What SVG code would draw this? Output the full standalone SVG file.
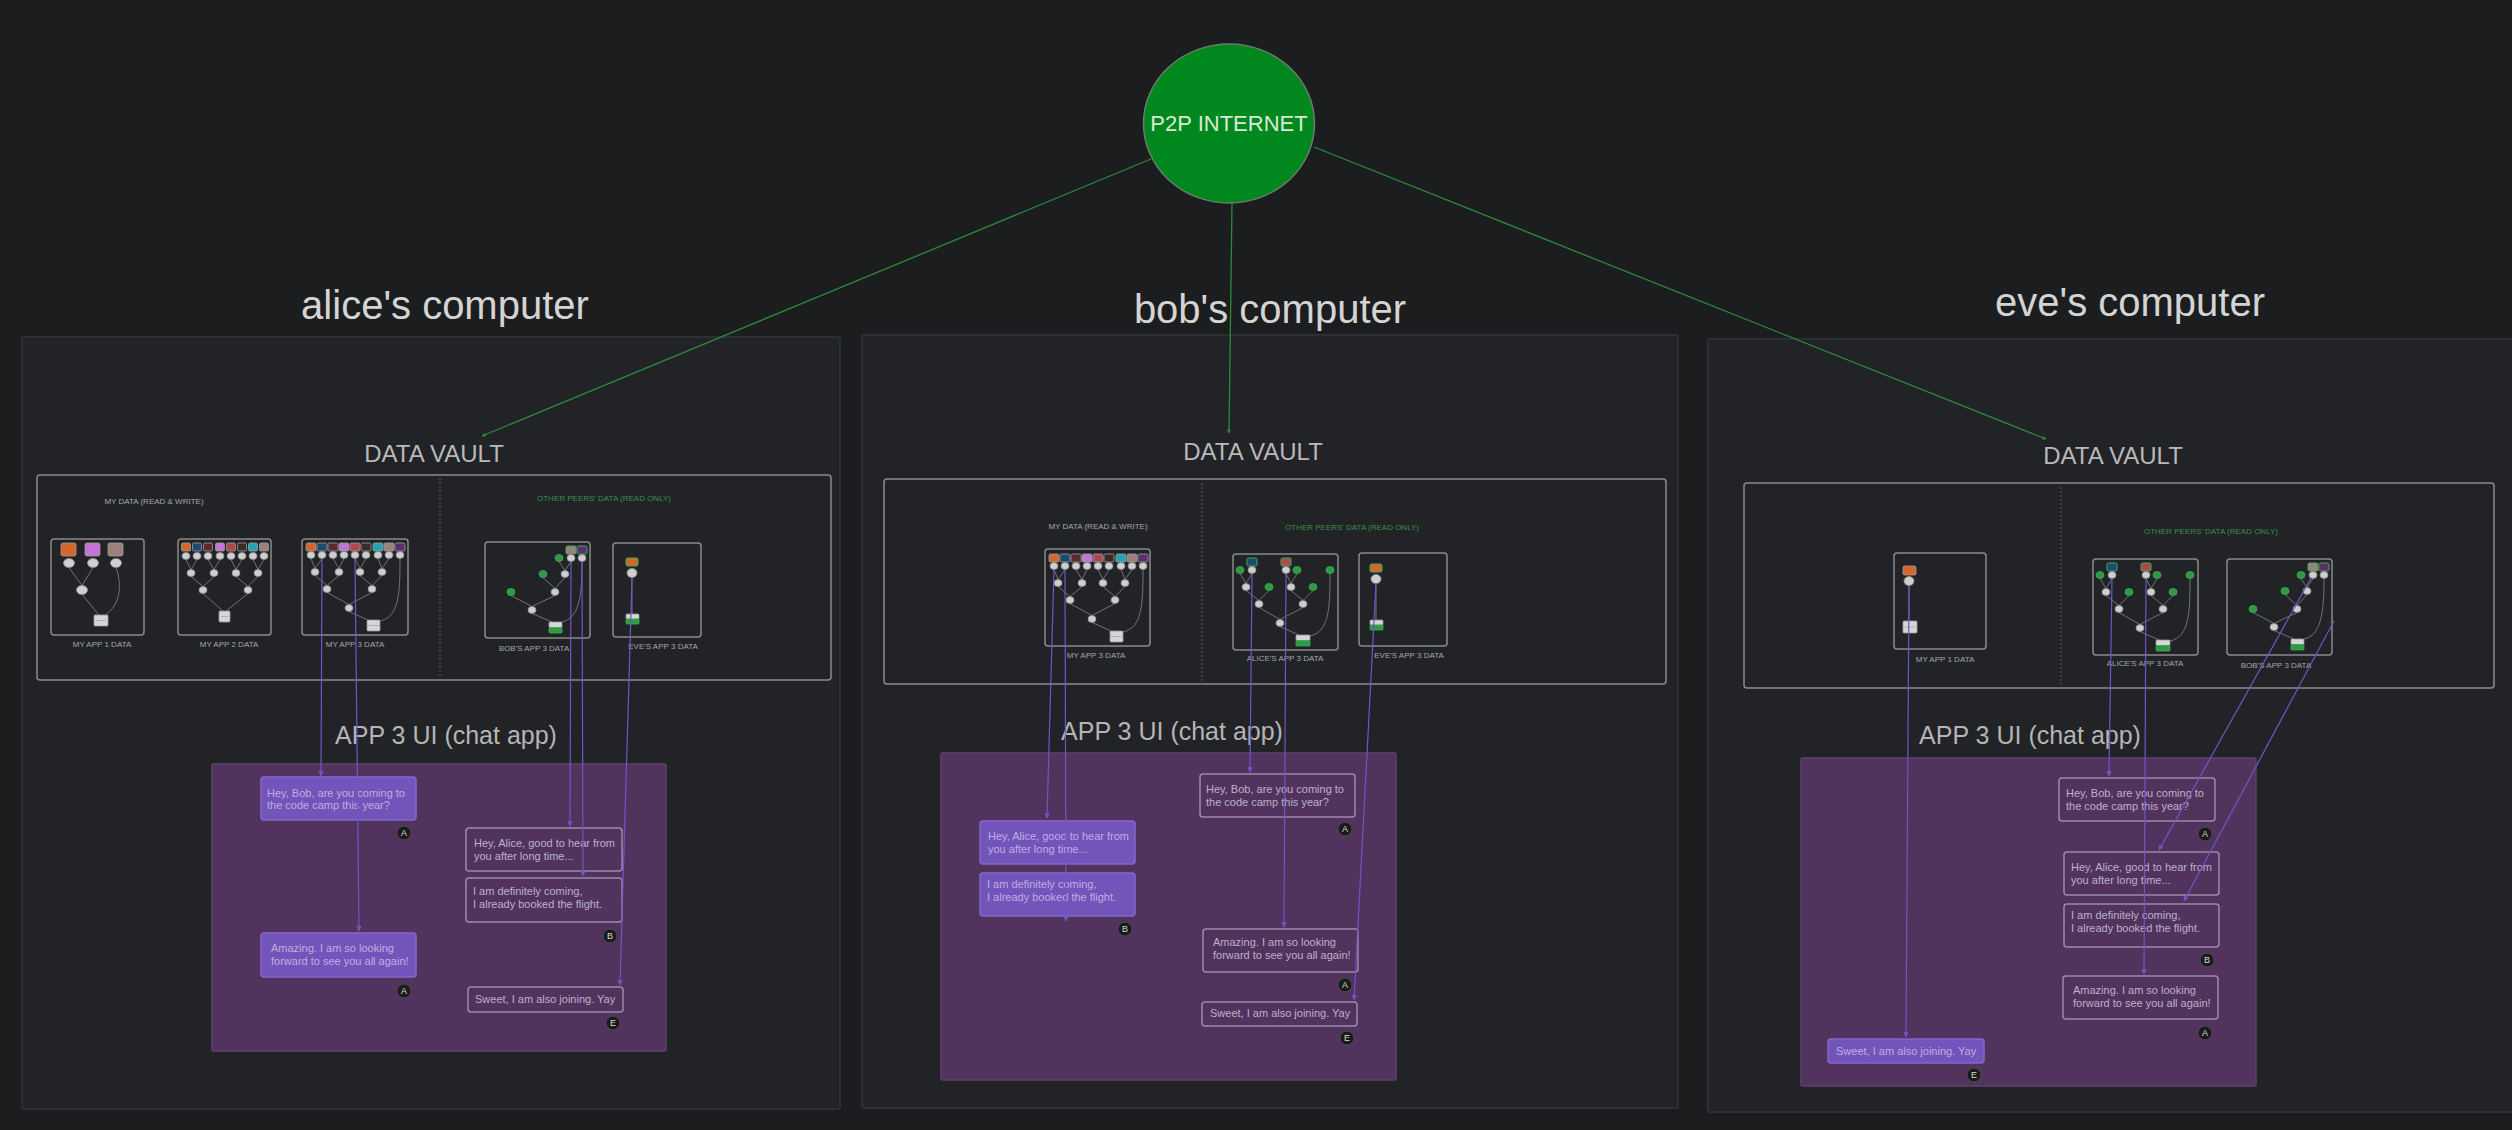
<svg xmlns="http://www.w3.org/2000/svg" width="2512" height="1130" viewBox="0 0 2512 1130">
<style>
.panel{fill:#212326;stroke:#2c2f33;stroke-width:2}
.title{font-family:"Liberation Sans",Arial,sans-serif;font-size:40px;fill:#d4d4d4;text-anchor:middle}
.vlabel{font-family:"Liberation Sans",Arial,sans-serif;font-size:24px;fill:#b9b9b9;text-anchor:middle}
.vault{fill:none;stroke:#8c8c8c;stroke-width:1.5}
.divider{stroke:#5c5c5c;stroke-width:1;stroke-dasharray:2 2}
.sec{font-family:"Liberation Sans",Arial,sans-serif;font-size:8px;fill:#a8a8a8;text-anchor:middle}
.secg{fill:#3b8f4c}
.box{fill:none;stroke:#8a8a8a;stroke-width:1.5}
.applabel{font-family:"Liberation Sans",Arial,sans-serif;font-size:8px;fill:#a6a6a6;text-anchor:middle}
.e{fill:none;stroke:#7a7a7a;stroke-width:0.9}
.wc{fill:#cfcfcf;stroke:#8e8e8e;stroke-width:0.8}
.gc{fill:#2f9944;stroke:#3cae55;stroke-width:0.8}
.doc{fill:#d6d6d6;stroke:#9a9a9a;stroke-width:0.8}
.docg{fill:#2f9944;stroke:#3cae55;stroke-width:0.8}
.sq{stroke:#a0a0a0;stroke-width:0.8}
.sqg{stroke:#3cae55;stroke-width:1}
.chat{fill:#52335d;stroke:#5f436b;stroke-width:1.5}
.uititle{font-family:"Liberation Sans",Arial,sans-serif;font-size:25px;fill:#b5b5b5;text-anchor:middle}
.bf{fill:#7354bb;stroke:#8567cc;stroke-width:1.5}
.bo{fill:none;stroke:#9d8aa8;stroke-width:1.5}
.bt{font-family:"Liberation Sans",Arial,sans-serif;font-size:11px;fill:#bdb2c9}
.btf{fill:#bbb0e0}
.badge{fill:#1b1b1c;stroke:#4c4c4c;stroke-width:1}
.bl{font-family:"Liberation Sans",Arial,sans-serif;font-size:9px;fill:#d8d8d8;text-anchor:middle}
.pc{fill:none;stroke:#6f56c8;stroke-width:1.2;marker-end:url(#ap)}
.gl{fill:none;stroke:#2b8a3b;stroke-width:1.3;marker-end:url(#ag)}
</style>
<defs>
<marker id="ap" viewBox="0 0 10 10" refX="9" refY="5" markerWidth="4.5" markerHeight="4.5" orient="auto"><path d="M0,0 L10,5 L0,10 z" fill="#6f56c8"/></marker>
<marker id="ag" viewBox="0 0 10 10" refX="9" refY="5" markerWidth="3" markerHeight="3" orient="auto"><path d="M0,0 L10,5 L0,10 z" fill="#2b8a3b"/></marker>
<g id="app1-local">
<path class="e" d="M18,28.5 L31,46.5 M42,28.5 L31,46.5 M31,55.5 L48,76 M65,28.5 C71,45 70,66 54,76"/>
<rect class="sq" x="10" y="4" width="15" height="13" rx="2" fill="#d4672c"/>
<rect class="sq" x="34" y="4" width="15" height="13" rx="2" fill="#c474d6"/>
<rect class="sq" x="57" y="4" width="15" height="13" rx="2" fill="#9a827b"/>
<ellipse class="wc" cx="18" cy="24" rx="5.5" ry="4.5"/><ellipse class="wc" cx="42" cy="24" rx="5.5" ry="4.5"/><ellipse class="wc" cx="65" cy="24" rx="5.5" ry="4.5"/>
<ellipse class="wc" cx="31" cy="51" rx="5.5" ry="4.5"/>
<rect class="doc" x="43" y="76" width="14" height="11" rx="1"/><line x1="45" y1="81.5" x2="55" y2="81.5" stroke="#999" stroke-width="0.6"/>
</g>
<g id="app2-local">
<path class="e" d="M8,20.5 L13,30.5 M19,20.5 L13,30.5 M30,20.5 L36,30.5 M42,20.5 L36,30.5 M53,20.5 L58,30.5 M64,20.5 L58,30.5 M75,20.5 L80,30.5 M86,20.5 L80,30.5 M13,37.5 L25,47.5 M36,37.5 L25,47.5 M58,37.5 L70,47.5 M80,37.5 L70,47.5 M25,54.5 L45,72 M70,54.5 L48,72"/>
<rect class="sq" x="3.5" y="4" width="9" height="8" rx="1.5" fill="#d4672c"/>
<rect class="sq" x="14.5" y="4" width="9" height="8" rx="1.5" fill="#1d4a70"/>
<rect class="sq" x="25.5" y="4" width="9" height="8" rx="1.5" fill="#5a2a30"/>
<rect class="sq" x="37.5" y="4" width="9" height="8" rx="1.5" fill="#c474d6"/>
<rect class="sq" x="48.5" y="4" width="9" height="8" rx="1.5" fill="#b0474c"/>
<rect class="sq" x="59.5" y="4" width="9" height="8" rx="1.5" fill="#3b2b2b"/>
<rect class="sq" x="70.5" y="4" width="9" height="8" rx="1.5" fill="#25a3b5"/>
<rect class="sq" x="81.5" y="4" width="9" height="8" rx="1.5" fill="#9a827b"/>
<ellipse class="wc" cx="8" cy="17" rx="4" ry="3.5"/><ellipse class="wc" cx="19" cy="17" rx="4" ry="3.5"/><ellipse class="wc" cx="30" cy="17" rx="4" ry="3.5"/><ellipse class="wc" cx="42" cy="17" rx="4" ry="3.5"/><ellipse class="wc" cx="53" cy="17" rx="4" ry="3.5"/><ellipse class="wc" cx="64" cy="17" rx="4" ry="3.5"/><ellipse class="wc" cx="75" cy="17" rx="4" ry="3.5"/><ellipse class="wc" cx="86" cy="17" rx="4" ry="3.5"/>
<ellipse class="wc" cx="13" cy="34" rx="4" ry="3.5"/><ellipse class="wc" cx="36" cy="34" rx="4" ry="3.5"/><ellipse class="wc" cx="58" cy="34" rx="4" ry="3.5"/><ellipse class="wc" cx="80" cy="34" rx="4" ry="3.5"/>
<ellipse class="wc" cx="25" cy="51" rx="4" ry="3.5"/><ellipse class="wc" cx="70" cy="51" rx="4" ry="3.5"/>
<rect class="doc" x="41" y="72" width="11" height="11" rx="1"/><line x1="43" y1="77.5" x2="50" y2="77.5" stroke="#999" stroke-width="0.6"/>
</g>
<g id="app3-local">
<path class="e" d="M9,19.5 L13,29.5 M20,19.5 L13,29.5 M31,19.5 L37,29.5 M42,19.5 L37,29.5 M53,19.5 L58,29.5 M64,19.5 L58,29.5 M76,19.5 L80,29.5 M87,19.5 L80,29.5 M13,36.5 L25,46.5 M37,36.5 L25,46.5 M58,36.5 L70,46.5 M80,36.5 L70,46.5 M25,53.5 L47,65.5 M70,53.5 L47,65.5 M47,72.5 L66,81 M98,19.5 C98,55 97,78 78,82"/>
<rect class="sq" x="4" y="4" width="10" height="8" rx="1.5" fill="#d4672c"/>
<rect class="sq" x="15" y="4" width="10" height="8" rx="1.5" fill="#1d4a70"/>
<rect class="sq" x="26" y="4" width="10" height="8" rx="1.5" fill="#5a2a30"/>
<rect class="sq" x="37" y="4" width="10" height="8" rx="1.5" fill="#c474d6"/>
<rect class="sq" x="48" y="4" width="10" height="8" rx="1.5" fill="#b0474c"/>
<rect class="sq" x="59" y="4" width="10" height="8" rx="1.5" fill="#3b2b2b"/>
<rect class="sq" x="71" y="4" width="10" height="8" rx="1.5" fill="#25a3b5"/>
<rect class="sq" x="82" y="4" width="10" height="8" rx="1.5" fill="#9a827b"/>
<rect class="sq" x="93" y="4" width="10" height="8" rx="1.5" fill="#5c2e6e"/>
<ellipse class="wc" cx="9" cy="16" rx="4" ry="3.5"/><ellipse class="wc" cx="20" cy="16" rx="4" ry="3.5"/><ellipse class="wc" cx="31" cy="16" rx="4" ry="3.5"/><ellipse class="wc" cx="42" cy="16" rx="4" ry="3.5"/><ellipse class="wc" cx="53" cy="16" rx="4" ry="3.5"/><ellipse class="wc" cx="64" cy="16" rx="4" ry="3.5"/><ellipse class="wc" cx="76" cy="16" rx="4" ry="3.5"/><ellipse class="wc" cx="87" cy="16" rx="4" ry="3.5"/><ellipse class="wc" cx="98" cy="16" rx="4" ry="3.5"/>
<ellipse class="wc" cx="13" cy="33" rx="4" ry="3.5"/><ellipse class="wc" cx="37" cy="33" rx="4" ry="3.5"/><ellipse class="wc" cx="58" cy="33" rx="4" ry="3.5"/><ellipse class="wc" cx="80" cy="33" rx="4" ry="3.5"/>
<ellipse class="wc" cx="25" cy="50" rx="4" ry="3.5"/><ellipse class="wc" cx="70" cy="50" rx="4" ry="3.5"/>
<ellipse class="wc" cx="47" cy="69" rx="4" ry="3.5"/>
<rect class="doc" x="65" y="81" width="13" height="11" rx="1"/><line x1="65" y1="86.5" x2="78" y2="86.5" stroke="#999" stroke-width="0.6"/>
</g>
<g id="alice-app3-remote">
<path class="e" d="M7,19.5 L13,29.5 M19,19.5 L13,29.5 M53,19.5 L58,29.5 M64,19.5 L58,29.5 M13,36.5 L26,46.5 M36,36.5 L26,46.5 M58,36.5 L70,46.5 M80,36.5 L70,46.5 M26,53.5 L47,65.5 M70,53.5 L47,65.5 M47,72.5 L66,81 M97,19.5 C97,55 96,78 77,82"/>
<rect class="sqg" x="14" y="4" width="10" height="8" rx="1.5" fill="#1d4a70"/>
<rect class="sqg" x="48" y="4" width="10" height="8" rx="1.5" fill="#b0474c"/>
<ellipse class="gc" cx="7" cy="16" rx="4" ry="3.5"/><ellipse class="wc" cx="19" cy="16" rx="4" ry="3.5"/><ellipse class="wc" cx="53" cy="16" rx="4" ry="3.5"/><ellipse class="gc" cx="64" cy="16" rx="4" ry="3.5"/><ellipse class="gc" cx="97" cy="16" rx="4" ry="3.5"/>
<ellipse class="wc" cx="13" cy="33" rx="4" ry="3.5"/><ellipse class="gc" cx="36" cy="33" rx="4" ry="3.5"/><ellipse class="wc" cx="58" cy="33" rx="4" ry="3.5"/><ellipse class="gc" cx="80" cy="33" rx="4" ry="3.5"/>
<ellipse class="wc" cx="26" cy="50" rx="4" ry="3.5"/><ellipse class="wc" cx="70" cy="50" rx="4" ry="3.5"/>
<ellipse class="wc" cx="47" cy="69" rx="4" ry="3.5"/>
<rect class="doc" x="63" y="81" width="14" height="5.5" rx="1"/><rect class="docg" x="63" y="86.5" width="14" height="5.5" rx="1"/>
</g>
<g id="bob-app3-remote">
<path class="e" d="M74,19.5 L80,28.5 M86,19.5 L80,28.5 M80,35.5 L70,46.5 M58,35.5 L70,46.5 M70,53.5 L47,64.5 M26,53.5 L47,64.5 M47,71.5 L67,80 M97,19.5 C97,55 94,76 77,80"/>
<rect class="sqg" x="81" y="4" width="10" height="8" rx="1.5" fill="#9a827b"/>
<rect class="sqg" x="92" y="4" width="10" height="8" rx="1.5" fill="#5c2e6e"/>
<ellipse class="gc" cx="74" cy="16" rx="4" ry="3.5"/><ellipse class="wc" cx="86" cy="16" rx="4" ry="3.5"/><ellipse class="wc" cx="97" cy="16" rx="4" ry="3.5"/>
<ellipse class="gc" cx="58" cy="32" rx="4" ry="3.5"/><ellipse class="wc" cx="80" cy="32" rx="4" ry="3.5"/>
<ellipse class="gc" cx="26" cy="50" rx="4" ry="3.5"/><ellipse class="wc" cx="70" cy="50" rx="4" ry="3.5"/>
<ellipse class="wc" cx="47" cy="68" rx="4" ry="3.5"/>
<rect class="doc" x="64" y="80" width="13" height="5.5" rx="1"/><rect class="docg" x="64" y="85.5" width="13" height="5.5" rx="1"/>
</g>
<g id="eve-app3-remote">
<path class="e" d="M19,34.5 L19,71"/>
<rect class="sqg" x="13" y="15" width="12" height="8" rx="1.5" fill="#d4672c"/>
<ellipse class="wc" cx="19" cy="30" rx="5" ry="4.5"/>
<rect class="doc" x="13" y="71" width="13" height="5" rx="1"/><rect class="docg" x="13" y="76" width="13" height="5" rx="1"/>
</g>
<g id="eve-app1-local">
<path class="e" d="M15,32.5 L15,68"/>
<rect class="sq" x="9" y="13" width="13" height="9" rx="1.5" fill="#d4672c"/>
<ellipse class="wc" cx="15" cy="28" rx="5" ry="4.5"/>
<rect class="doc" x="9" y="68" width="14" height="12" rx="1"/><line x1="11" y1="74" x2="21" y2="74" stroke="#999" stroke-width="0.6"/>
</g>
</defs>

<rect width="2512" height="1130" fill="#1c1d1f"/>

<g id="p2p-internet">
<ellipse cx="1229" cy="123.5" rx="85.5" ry="79.5" fill="#00881f" stroke="#6b7d6b" stroke-width="1.5"/>
<text x="1229" y="131" font-family="Liberation Sans, Arial, sans-serif" font-size="22" fill="#d8ead8" text-anchor="middle">P2P INTERNET</text>
</g>

<g id="alice-computer">
<text class="title" x="445" y="319">alice's computer</text>
<rect class="panel" x="22" y="337" width="818" height="772" rx="2"/>
<g id="alice-vault">
<text class="vlabel" x="434" y="462">DATA VAULT</text>
<rect class="vault" x="37" y="475" width="794" height="205" rx="3"/>
<line class="divider" x1="440" y1="478" x2="440" y2="677"/>
<text class="sec" x="154" y="504">MY DATA (READ &amp; WRITE)</text>
<text class="sec secg" x="604" y="501">OTHER PEERS' DATA (READ ONLY)</text>
<g id="alice-my-app1"><rect class="box" x="51" y="539" width="93" height="96" rx="3"/><use href="#app1-local" transform="translate(51,539)"/><text class="applabel" x="102" y="647">MY APP 1 DATA</text></g>
<g id="alice-my-app2"><rect class="box" x="178" y="539" width="93" height="96" rx="3"/><use href="#app2-local" transform="translate(178,539)"/><text class="applabel" x="229" y="647">MY APP 2 DATA</text></g>
<g id="alice-my-app3"><rect class="box" x="302" y="539" width="106" height="96" rx="3"/><use href="#app3-local" transform="translate(302,539)"/><text class="applabel" x="355" y="647">MY APP 3 DATA</text></g>
<g id="alice-bob-app3"><rect class="box" x="485" y="542" width="105" height="96" rx="3"/><use href="#bob-app3-remote" transform="translate(485,542)"/><text class="applabel" x="534" y="651">BOB'S APP 3 DATA</text></g>
<g id="alice-eve-app3"><rect class="box" x="613" y="543" width="88" height="94" rx="3"/><use href="#eve-app3-remote" transform="translate(613,543)"/><text class="applabel" x="663" y="649">EVE'S APP 3 DATA</text></g>
</g>
<g id="alice-chat">
<text class="uititle" x="446" y="744">APP 3 UI (chat app)</text>
<rect class="chat" x="212" y="764" width="454" height="287" rx="2"/>
<g id="alice-msg1"><rect class="bf" x="261" y="777" width="155" height="43" rx="3"/><text class="bt btf"><tspan x="267" y="797">Hey, Bob, are you coming to</tspan><tspan x="267" y="809">the code camp this year?</tspan></text><circle class="badge" cx="404" cy="833" r="7"/><text class="bl" x="404" y="836">A</text></g>
<g id="alice-msg2"><rect class="bo" x="466" y="828" width="156" height="43" rx="3"/><text class="bt"><tspan x="474" y="847">Hey, Alice, good to hear from</tspan><tspan x="474" y="860">you after long time...</tspan></text></g>
<g id="alice-msg3"><rect class="bo" x="466" y="878" width="156" height="44" rx="3"/><text class="bt"><tspan x="473" y="895">I am definitely coming,</tspan><tspan x="473" y="908">I already booked the flight.</tspan></text><circle class="badge" cx="610" cy="936" r="7"/><text class="bl" x="610" y="939">B</text></g>
<g id="alice-msg4"><rect class="bf" x="261" y="933" width="155" height="44" rx="3"/><text class="bt btf"><tspan x="271" y="952">Amazing. I am so looking</tspan><tspan x="271" y="965">forward to see you all again!</tspan></text><circle class="badge" cx="404" cy="991" r="7"/><text class="bl" x="404" y="994">A</text></g>
<g id="alice-msg5"><rect class="bo" x="468" y="987" width="155" height="25" rx="3"/><text class="bt" x="475" y="1003">Sweet, I am also joining. Yay</text><circle class="badge" cx="613" cy="1023" r="7"/><text class="bl" x="613" y="1026">E</text></g>
</g>
</g>

<g id="bob-computer">
<text class="title" x="1270" y="323">bob's computer</text>
<rect class="panel" x="862" y="335" width="816" height="773" rx="2"/>
<g id="bob-vault">
<text class="vlabel" x="1253" y="460">DATA VAULT</text>
<rect class="vault" x="884" y="479" width="782" height="205" rx="3"/>
<line class="divider" x1="1202" y1="483" x2="1202" y2="682"/>
<text class="sec" x="1098" y="529">MY DATA (READ &amp; WRITE)</text>
<text class="sec secg" x="1352" y="530">OTHER PEERS' DATA (READ ONLY)</text>
<g id="bob-my-app3"><rect class="box" x="1045" y="549" width="105" height="97" rx="3"/><use href="#app3-local" transform="translate(1045,550)"/><text class="applabel" x="1096" y="658">MY APP 3 DATA</text></g>
<g id="bob-alice-app3"><rect class="box" x="1233" y="554" width="105" height="96" rx="3"/><use href="#alice-app3-remote" transform="translate(1233,554)"/><text class="applabel" x="1285" y="661">ALICE'S APP 3 DATA</text></g>
<g id="bob-eve-app3"><rect class="box" x="1359" y="553" width="88" height="93" rx="3"/><use href="#eve-app3-remote" transform="translate(1357,549)"/><text class="applabel" x="1409" y="658">EVE'S APP 3 DATA</text></g>
</g>
<g id="bob-chat">
<text class="uititle" x="1172" y="740">APP 3 UI (chat app)</text>
<rect class="chat" x="941" y="753" width="455" height="327" rx="2"/>
<g id="bob-msg1"><rect class="bo" x="1200" y="774" width="155" height="43" rx="3"/><text class="bt"><tspan x="1206" y="793">Hey, Bob, are you coming to</tspan><tspan x="1206" y="806">the code camp this year?</tspan></text><circle class="badge" cx="1345" cy="829" r="7"/><text class="bl" x="1345" y="832">A</text></g>
<g id="bob-msg2"><rect class="bf" x="980" y="821" width="155" height="43" rx="3"/><text class="bt btf"><tspan x="988" y="840">Hey, Alice, good to hear from</tspan><tspan x="988" y="853">you after long time...</tspan></text></g>
<g id="bob-msg3"><rect class="bf" x="980" y="873" width="155" height="43" rx="3"/><text class="bt btf"><tspan x="987" y="888">I am definitely coming,</tspan><tspan x="987" y="901">I already booked the flight.</tspan></text><circle class="badge" cx="1125" cy="929" r="7"/><text class="bl" x="1125" y="932">B</text></g>
<g id="bob-msg4"><rect class="bo" x="1203" y="929" width="155" height="43" rx="3"/><text class="bt"><tspan x="1213" y="946">Amazing. I am so looking</tspan><tspan x="1213" y="959">forward to see you all again!</tspan></text><circle class="badge" cx="1345" cy="985" r="7"/><text class="bl" x="1345" y="988">A</text></g>
<g id="bob-msg5"><rect class="bo" x="1202" y="1002" width="155" height="24" rx="3"/><text class="bt" x="1210" y="1017">Sweet, I am also joining. Yay</text><circle class="badge" cx="1347" cy="1038" r="7"/><text class="bl" x="1347" y="1041">E</text></g>
</g>
</g>

<g id="eve-computer">
<text class="title" x="2130" y="316">eve's computer</text>
<rect class="panel" x="1708" y="339" width="820" height="773" rx="2"/>
<g id="eve-vault">
<text class="vlabel" x="2113" y="464">DATA VAULT</text>
<rect class="vault" x="1744" y="483" width="750" height="205" rx="3"/>
<line class="divider" x1="2061" y1="487" x2="2061" y2="686"/>
<text class="sec secg" x="2211" y="534">OTHER PEERS' DATA (READ ONLY)</text>
<g id="eve-my-app1"><rect class="box" x="1894" y="553" width="92" height="96" rx="3"/><use href="#eve-app1-local" transform="translate(1894,553)"/><text class="applabel" x="1945" y="662">MY APP 1 DATA</text></g>
<g id="eve-alice-app3"><rect class="box" x="2093" y="559" width="105" height="96" rx="3"/><use href="#alice-app3-remote" transform="translate(2093,559)"/><text class="applabel" x="2145" y="666">ALICE'S APP 3 DATA</text></g>
<g id="eve-bob-app3"><rect class="box" x="2227" y="559" width="105" height="96" rx="3"/><use href="#bob-app3-remote" transform="translate(2227,559)"/><text class="applabel" x="2276" y="668">BOB'S APP 3 DATA</text></g>
</g>
<g id="eve-chat">
<text class="uititle" x="2030" y="744">APP 3 UI (chat app)</text>
<rect class="chat" x="1801" y="758" width="455" height="328" rx="2"/>
<g id="eve-msg1"><rect class="bo" x="2059" y="778" width="156" height="43" rx="3"/><text class="bt"><tspan x="2066" y="797">Hey, Bob, are you coming to</tspan><tspan x="2066" y="810">the code camp this year?</tspan></text><circle class="badge" cx="2205" cy="834" r="7"/><text class="bl" x="2205" y="837">A</text></g>
<g id="eve-msg2"><rect class="bo" x="2064" y="852" width="155" height="43" rx="3"/><text class="bt"><tspan x="2071" y="871">Hey, Alice, good to hear from</tspan><tspan x="2071" y="884">you after long time...</tspan></text></g>
<g id="eve-msg3"><rect class="bo" x="2064" y="904" width="155" height="43" rx="3"/><text class="bt"><tspan x="2071" y="919">I am definitely coming,</tspan><tspan x="2071" y="932">I already booked the flight.</tspan></text><circle class="badge" cx="2207" cy="960" r="7"/><text class="bl" x="2207" y="963">B</text></g>
<g id="eve-msg4"><rect class="bo" x="2063" y="976" width="155" height="43" rx="3"/><text class="bt"><tspan x="2073" y="994">Amazing. I am so looking</tspan><tspan x="2073" y="1007">forward to see you all again!</tspan></text><circle class="badge" cx="2205" cy="1033" r="7"/><text class="bl" x="2205" y="1036">A</text></g>
<g id="eve-msg5"><rect class="bf" x="1828" y="1039" width="156" height="24" rx="3"/><text class="bt btf" x="1836" y="1055">Sweet, I am also joining. Yay</text><circle class="badge" cx="1974" cy="1075" r="7"/><text class="bl" x="1974" y="1078">E</text></g>
</g>
</g>

<g id="connectors">
<path class="gl" d="M1151,159 L482,436"/>
<path class="gl" d="M1232,203 L1229,433"/>
<path class="gl" d="M1314,147 L2046,439"/>
<path class="pc" d="M322,559 L321,776"/>
<path class="pc" d="M355,559 L359,931"/>
<path class="pc" d="M571,562 L570,826"/>
<path class="pc" d="M582,562 L583,876"/>
<path class="pc" d="M632,578 L620,985"/>
<path class="pc" d="M1054,570 L1047,818"/>
<path class="pc" d="M1065,570 L1066,921"/>
<path class="pc" d="M1252,574 L1250,772"/>
<path class="pc" d="M1286,574 L1284,927"/>
<path class="pc" d="M1376,583 L1354,1000"/>
<path class="pc" d="M1909,586 L1906,1037"/>
<path class="pc" d="M2112,579 L2109,776"/>
<path class="pc" d="M2146,579 L2144,974"/>
<path class="pc" d="M2311,578 L2159,850"/>
<path class="pc" d="M2334,621 L2184,901"/>
</g>
</svg>
